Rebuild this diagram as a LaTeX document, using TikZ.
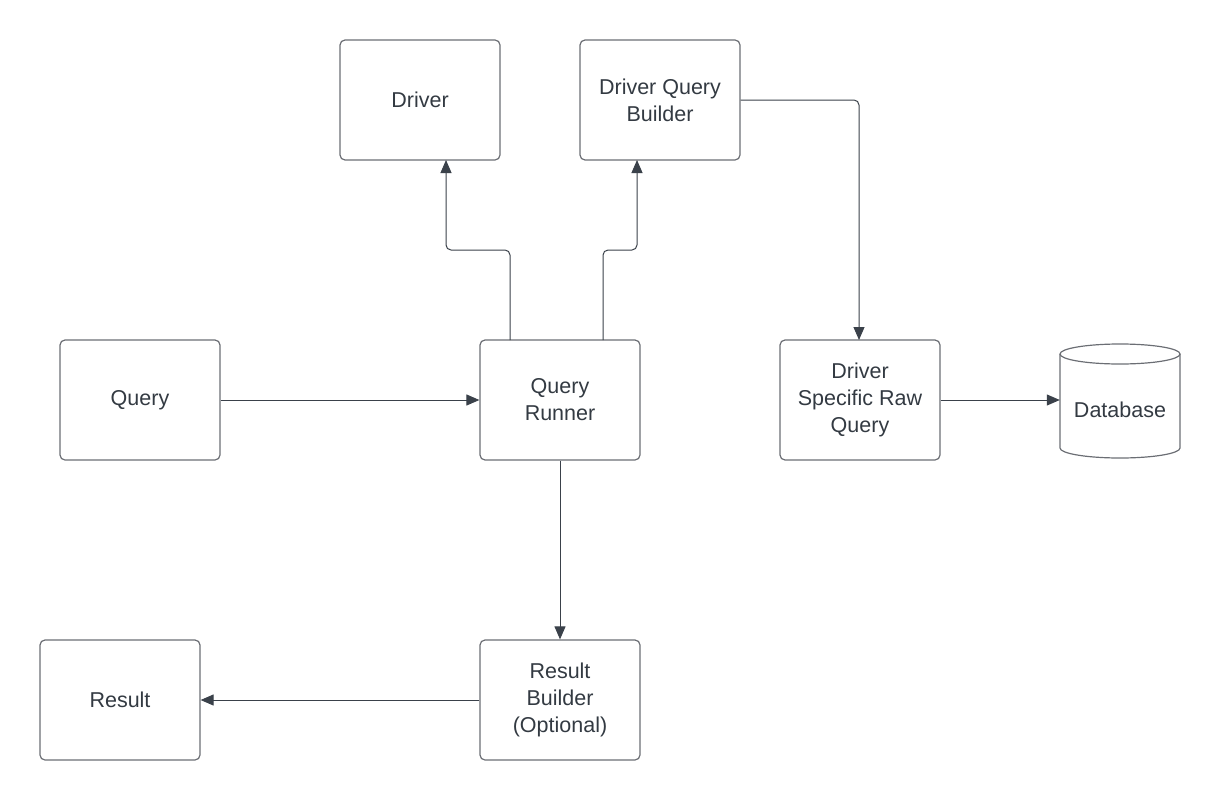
\documentclass[tikz,border=0pt]{standalone}
\usepackage{fontspec}
\setmainfont{Liberation Sans}
\usetikzlibrary{arrows.meta}
\definecolor{boxline}{HTML}{6B6E74}
\definecolor{conn}{HTML}{3A414A}
\definecolor{txt}{HTML}{333A42}
\tikzset{
  x=1pt,y=-1pt,
  lbl/.style={font=\fontsize{21.5}{27}\selectfont,text=txt,align=center},
  box/.style={lbl,draw=boxline,line width=1.2pt,rounded corners=5pt,minimum width=160pt,minimum height=120pt,inner sep=0pt},
  conn/.style={draw=conn,line width=1pt,rounded corners=5pt,-{Triangle[length=13pt,width=11pt]}},
  dbline/.style={draw=boxline,line width=1.2pt}
}
\begin{document}
\begin{tikzpicture}
\useasboundingbox (0,0) rectangle (1220,800);
\node[box] (driver) at (420,100) {Driver};
\node[box] (dqb) at (660,100) {Driver Query\\Builder};
\node[box] (query) at (140,400) {Query};
\node[box] (qr) at (560,400) {Query\\Runner};
\node[box] (dsrq) at (860,400) {Driver\\Specific Raw\\Query};
\node[minimum width=120pt,minimum height=120pt,inner sep=0pt] (dbase) at (1120,400) {};
\draw[dbline] (1120,354) ellipse [x radius=60, y radius=10];
\draw[dbline] (1060,354) -- (1060,448) arc[start angle=180,end angle=0,x radius=60,y radius=10] -- (1180,354);
\node[lbl] (dblabel) at (1120,410) {Database};
\node[box] (result) at (120,700) {Result};
\node[box] (rb) at (560,700) {Result\\Builder\\(Optional)};
\coordinate (qrl) at (510,340);
\coordinate (qrr) at (603,340);
\coordinate (drb) at (446,160);
\coordinate (dqbb) at (637,160);
\coordinate (dsrqt) at (859,340);
\draw[conn] (query.east) -- (qr.west);
\draw[conn] (qrl) -- (510,250) -- (446,250) -- (drb);
\draw[conn] (qrr) -- (603,250) -- (637,250) -- (dqbb);
\draw[conn] (dqb.east) -- (859,100) -- (dsrqt);
\draw[conn] (dsrq.east) -- (dbase.west);
\draw[conn] (qr.south) -- (rb.north);
\draw[conn] (rb.west) -- (result.east);
\end{tikzpicture}
\end{document}
